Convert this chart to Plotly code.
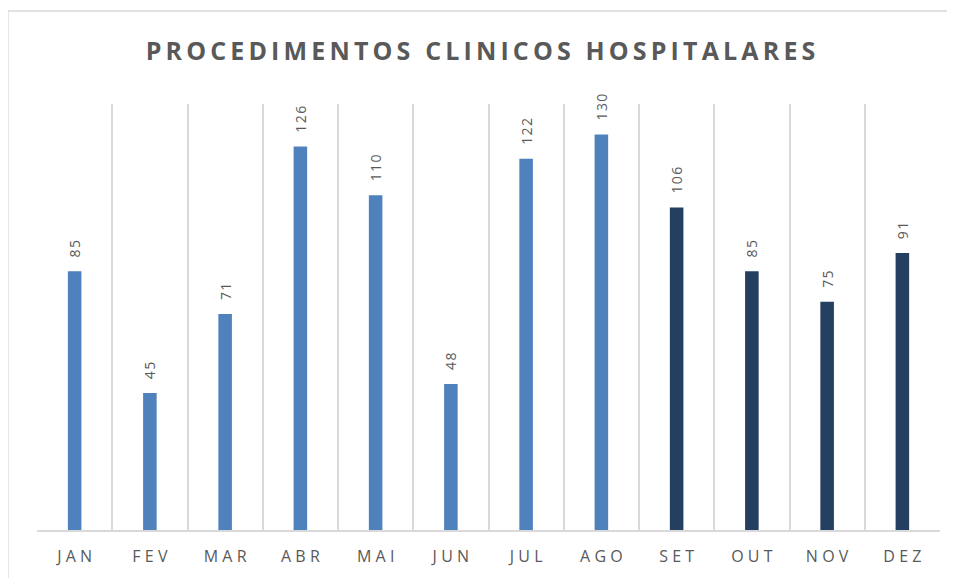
import plotly.graph_objects as go

months = ["JAN", "FEV", "MAR", "ABR", "MAI", "JUN", "JUL", "AGO", "SET", "OUT", "NOV", "DEZ"]
values = [85, 45, 71, 126, 110, 48, 122, 130, 106, 85, 75, 91]
light_months = 8  # JAN..AGO in light blue, SET..DEZ dark
title_text = "PROCEDIMENTOS CLINICOS HOSPITALARES"

LIGHT = "#4F81BD"
DARK = "#243F60"
GRAY = "#595959"
FONT = "Open Sans, sans-serif"

def spaced(s, sep="\u2009"):
    return sep.join(list(s))

colors = [LIGHT if i < light_months else DARK for i in range(len(months))]
tick_text = [spaced(m, "\u2009\u200a") for m in months]
label_text = ["\u00a0" * 3 + spaced(str(v), "\u200a") for v in values]

W, H = 945, 570  # figure sits at an 8px page offset

fig = go.Figure()
fig.add_trace(go.Bar(
    x=months,
    y=values,
    marker=dict(color=colors, line=dict(width=0)),
    text=label_text,
    textposition="outside",
    textangle=-90,
    constraintext="none",
    textfont=dict(family=FONT, size=14, color=GRAY),
    cliponaxis=False,
    width=0.18,
))

fig.update_layout(
    width=W,
    height=H,
    paper_bgcolor="white",
    plot_bgcolor="white",
    margin=dict(l=29, r=13, t=96, b=48),
    title=dict(
        text=spaced(title_text, "\u2009"),
        x=0.5,
        xanchor="center",
        y=1 - 43 / H,
        yanchor="middle",
        font=dict(family=FONT, size=25, color=GRAY, weight="bold"),
    ),
    showlegend=False,
    xaxis=dict(
        type="category",
        categoryorder="array",
        categoryarray=months,
        tickmode="array",
        tickvals=months,
        ticktext=tick_text,
        tickson="boundaries",
        showgrid=True,
        gridcolor="#D9D9D9",
        gridwidth=1.5,
        showline=True,
        linecolor="#D9D9D9",
        linewidth=1.5,
        ticks="",
        ticklabelstandoff=11,
        tickfont=dict(family=FONT, size=16, color=GRAY),
        range=[-0.5, 11.5],
        fixedrange=True,
    ),
    yaxis=dict(
        range=[0, 140],
        showgrid=False,
        showticklabels=False,
        zeroline=False,
        showline=False,
        ticks="",
    ),
    shapes=[dict(
        type="rect", xref="paper", yref="paper",
        x0=-29 / 903, x1=1.2,
        y0=-0.5, y1=(426 + 93) / 426,
        line=dict(color="#D9D9D9", width=1.3),
        fillcolor="rgba(0,0,0,0)",
        layer="below",
    )],
)

fig.write_html("out.html")
